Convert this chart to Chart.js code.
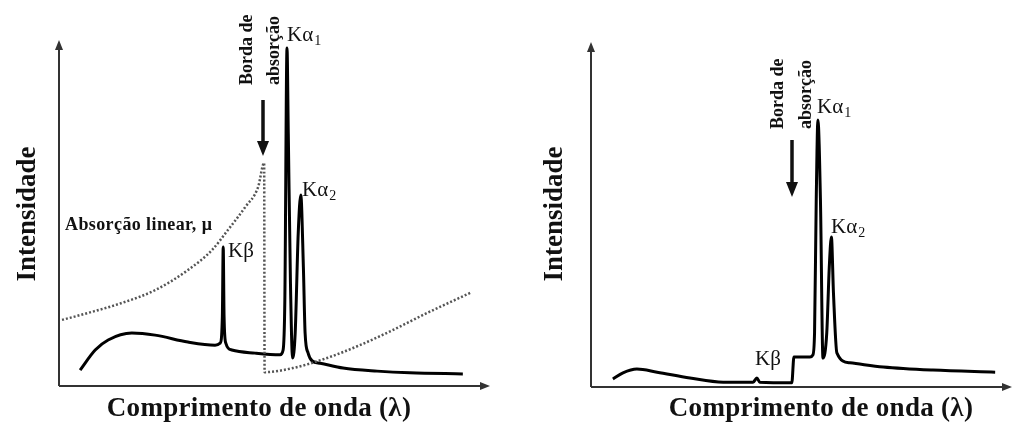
<!DOCTYPE html>
<html>
<head>
<meta charset="utf-8">
<script src="https://cdn.jsdelivr.net/npm/chart.js@4/dist/chart.umd.min.js"></script>
<style>
  html, body { margin: 0; padding: 0; background: #fff; }
  #wrap { position: relative; width: 1013px; height: 427px; overflow: hidden; }
  canvas { position: absolute; top: 0; }
  #tube { left: 0; }
  #filtered { left: 506px; }
</style>
</head>
<body>
<div id="wrap">
  <canvas id="tube" width="506" height="427"></canvas>
  <canvas id="filtered" width="507" height="427"></canvas>
</div>
<script>
'use strict';

// unfiltered tube spectrum (arbitrary wavelength / intensity units, 0-100)
var tubeLambda = [4.9, 8.4, 11.4, 16.9, 22.3, 29.9, 36.2, 37.4, 37.9, 38.1, 38.3, 38.7, 40.1, 45.5,
  51.3, 52.0, 52.4, 52.9, 53.2, 53.7, 54.2, 54.8, 55.5, 56.1, 56.7, 57.1, 57.8, 58.7,
  60.6, 65.9, 73.8, 81.4, 93.7];
var tubeIntensity = [4.6, 10.4, 13.3, 15.3, 14.7, 12.7, 11.8, 12.4, 20.0, 40.2, 20.0, 12.4, 10.4, 9.5,
  9.0, 10.4, 24.9, 97.7, 73.0, 30.0, 8.1, 15.3, 44.0, 55.2, 34.4, 15.3, 9.5, 7.3,
  6.6, 5.2, 4.3, 3.8, 3.5];

// linear absorption coefficient of the filter, with its K edge
var muLambda = [0.7, 6.7, 14.6, 22.3, 29.9, 35.5, 39.2, 43.2, 46.2, 47.6, 47.7, 54.3, 62.2, 69.8, 77.5, 85.4, 95.4];
var muValue = [19.1, 21.1, 24.0, 27.7, 33.5, 39.3, 45.1, 51.7, 57.5, 64.5, 4.0, 5.2, 8.1, 11.8, 16.2, 21.1, 26.9];

// spectrum after the filter
var filteredLambda = [5.2, 7.6, 10.9, 15.7, 23.5, 31.4, 38.5, 39.4, 40.1, 47.7, 48.2, 52.0, 52.7, 53.1,
  53.5, 53.9, 54.5, 55.1, 56.0, 56.6, 57.1, 57.6, 58.4, 61.5, 69.4, 81.2, 96.0];
var filteredIntensity = [2.3, 4.1, 5.2, 4.3, 2.6, 1.4, 1.4, 2.6, 1.4, 1.2, 8.7, 8.7, 9.3, 15.7,
  54.2, 77.4, 54.2, 8.4, 15.7, 34.8, 43.5, 27.0, 9.9, 7.0, 5.8, 4.9, 4.3];

var SERIF = '"Liberation Serif", "DejaVu Serif", serif';

function toPoints(xs, ys) {
  return xs.map(function (x, i) { return { x: x, y: ys[i] }; });
}

function text(ctx, s, x, y, font, align, angle, spacing) {
  ctx.save();
  ctx.translate(x, y);
  if (angle) ctx.rotate(angle);
  ctx.font = font;
  if (spacing) ctx.letterSpacing = spacing;
  ctx.textAlign = align || 'left';
  ctx.textBaseline = 'middle';
  ctx.fillText(s, 0, 0);
  ctx.restore();
}

// "Kα" with a subscript index
function lineLabel(ctx, main, sub, x, y) {
  ctx.save();
  ctx.font = '21px ' + SERIF;
  ctx.textAlign = 'left';
  ctx.textBaseline = 'middle';
  ctx.fillText(main, x, y);
  if (sub) {
    var w = ctx.measureText(main).width;
    ctx.font = '14px ' + SERIF;
    ctx.fillText(sub, x + w + 1, y + 6);
  }
  ctx.restore();
}

function sketchPlugin(notes) {
  return {
    id: 'sketch',
    afterDatasetsDraw: function (chart) {
      var ctx = chart.ctx;
      var xs = chart.scales.x, ys = chart.scales.y;
      var x0 = xs.getPixelForValue(0), y0 = ys.getPixelForValue(0);
      var xEnd = xs.getPixelForValue(100), yEnd = ys.getPixelForValue(100);

      ctx.save();
      ctx.strokeStyle = '#333';
      ctx.fillStyle = '#333';
      ctx.lineWidth = 2;
      ctx.beginPath();
      ctx.moveTo(x0, y0); ctx.lineTo(x0, yEnd + 6);
      ctx.moveTo(x0, y0); ctx.lineTo(xEnd - 6, y0);
      ctx.stroke();
      ctx.beginPath();
      ctx.moveTo(x0, yEnd); ctx.lineTo(x0 - 4, yEnd + 10); ctx.lineTo(x0 + 4, yEnd + 10);
      ctx.closePath(); ctx.fill();
      ctx.beginPath();
      ctx.moveTo(xEnd, y0); ctx.lineTo(xEnd - 10, y0 - 4); ctx.lineTo(xEnd - 10, y0 + 4);
      ctx.closePath(); ctx.fill();

      // arrow pointing at the absorption edge
      var a = notes.edgeArrow;
      ctx.strokeStyle = '#111';
      ctx.fillStyle = '#111';
      ctx.lineWidth = 3.5;
      ctx.beginPath();
      ctx.moveTo(a.x, a.top); ctx.lineTo(a.x, a.head + 2);
      ctx.stroke();
      ctx.beginPath();
      ctx.moveTo(a.x, a.tip); ctx.lineTo(a.x - 6, a.head); ctx.lineTo(a.x + 6, a.head);
      ctx.closePath(); ctx.fill();

      var big = 'bold 27px ' + SERIF;
      text(ctx, 'Intensidade', notes.yTitle.x, notes.yTitle.y, big, 'center', -Math.PI / 2);
      text(ctx, 'Comprimento de onda (λ)', notes.xTitle.x, notes.xTitle.y, big, 'center', 0, '0.3px');

      text(ctx, 'Borda de', notes.edge.x1, notes.edge.bottom, 'bold 18px ' + SERIF, 'left', -Math.PI / 2);
      text(ctx, 'absorção', notes.edge.x2, notes.edge.bottom, 'bold 18px ' + SERIF, 'left', -Math.PI / 2);

      lineLabel(ctx, 'Kα', '1', notes.ka1.x, notes.ka1.y);
      lineLabel(ctx, 'Kα', '2', notes.ka2.x, notes.ka2.y);
      lineLabel(ctx, 'Kβ', '', notes.kb.x, notes.kb.y);

      if (notes.mu) {
        text(ctx, 'Absorção linear, μ', notes.mu.x, notes.mu.y, 'bold 18px ' + SERIF, 'left', 0, '0.4px');
      }
      ctx.restore();
    }
  };
}

function spectrumChart(id, datasets, padding, notes) {
  return new Chart(document.getElementById(id), {
    type: 'line',
    data: { datasets: datasets },
    options: {
      responsive: false,
      animation: false,
      devicePixelRatio: 1,
      layout: { padding: padding },
      plugins: { legend: { display: false }, tooltip: { enabled: false } },
      elements: { point: { radius: 0 } },
      scales: {
        x: { type: 'linear', min: 0, max: 100, display: false },
        y: { type: 'linear', min: 0, max: 100, display: false }
      }
    },
    plugins: [sketchPlugin(notes)]
  });
}

spectrumChart('tube', [
  {
    data: toPoints(muLambda, muValue),
    borderColor: '#555',
    borderWidth: 2.5,
    borderDash: [2, 2],
    cubicInterpolationMode: 'monotone',
    clip: false
  },
  {
    data: toPoints(tubeLambda, tubeIntensity),
    borderColor: '#000',
    borderWidth: 3,
    cubicInterpolationMode: 'monotone',
    clip: false
  }
], { left: 59, right: 16, top: 40, bottom: 41 }, {
  edgeArrow: { x: 263, top: 100, head: 141, tip: 156 },
  yTitle: { x: 28, y: 214 },
  xTitle: { x: 259, y: 409 },
  edge: { x1: 247, x2: 274, bottom: 85 },
  ka1: { x: 287, y: 35 },
  ka2: { x: 302, y: 190 },
  kb: { x: 228, y: 251 },
  mu: { x: 65, y: 225 }
});

spectrumChart('filtered', [
  {
    data: toPoints(filteredLambda, filteredIntensity),
    borderColor: '#000',
    borderWidth: 3,
    cubicInterpolationMode: 'monotone',
    clip: false
  }
], { left: 85, right: 1, top: 42, bottom: 40 }, {
  edgeArrow: { x: 286, top: 140, head: 182, tip: 197 },
  yTitle: { x: 49, y: 214 },
  xTitle: { x: 315, y: 409 },
  edge: { x1: 272, x2: 300, bottom: 129 },
  ka1: { x: 311, y: 107 },
  ka2: { x: 325, y: 227 },
  kb: { x: 249, y: 359 }
});
</script>
</body>
</html>
